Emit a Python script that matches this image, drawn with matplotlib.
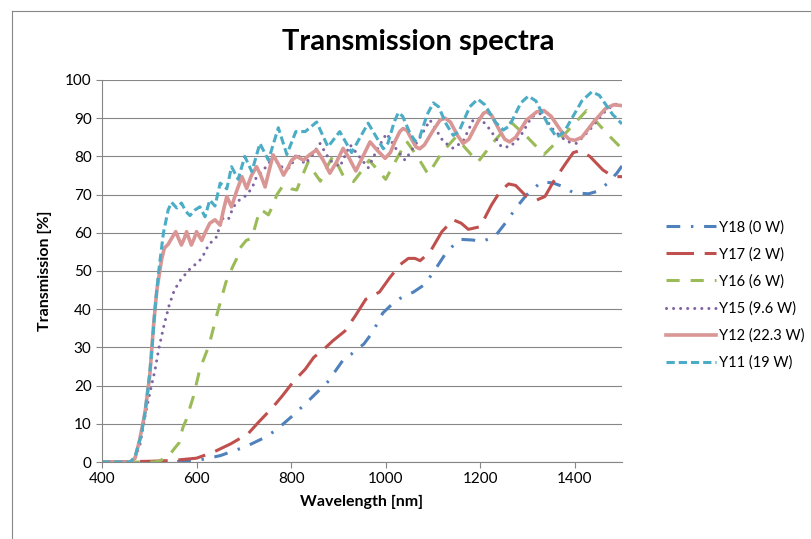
import numpy as np
import matplotlib.pyplot as plt
from matplotlib.lines import Line2D

plt.rcParams['font.family'] = ['Lato', 'DejaVu Sans']

# Y18 (0 W)
wl_y18 = [400, 542, 600, 622, 651, 680, 702, 739, 768, 804, 834, 848, 877, 914, 928, 954,
          972, 994, 1016, 1030, 1059, 1083, 1108, 1129, 1157, 1185, 1203, 1231, 1253, 1277,
          1298, 1330, 1355, 1373, 1397, 1429, 1446, 1468, 1489, 1500]
t_y18 = [0, 0, 0.4, 0.9, 1.7, 3, 3.9, 6.1, 8.3, 12.2, 15.7, 17.4, 20.9, 27.4, 28.3, 30.9,
         33.9, 39, 41.6, 42.8, 44.5, 46.5, 51, 55, 58.3, 58.1, 57.7, 59, 62.5, 66.7,
         69.9, 73.4, 73, 72.2, 70.5, 70.2, 70.8, 72.8, 75.6, 77.5]

# Y17 (2 W)
wl_y17 = [400, 505, 549, 600, 636, 673, 709, 731, 761, 782, 804, 830, 848, 870, 888, 914,
          936, 958, 987, 1009, 1031, 1048, 1062, 1073, 1094, 1119, 1143, 1160, 1175, 1200,
          1224, 1242, 1260, 1275, 1298, 1320, 1337, 1355, 1380, 1397, 1411, 1432, 1460,
          1482, 1500]
t_y17 = [0, 0.2, 0.4, 1, 2.6, 4.8, 7.4, 10.4, 14.3, 17.4, 20.9, 24.3, 27.4, 29.6, 31.7, 34.3,
         38.3, 42.6, 44.5, 48.3, 51.7, 53.3, 53.3, 52.7, 55, 60.3, 63.4, 62.5, 60.9, 61.6,
         67.3, 70.8, 72.8, 72.4, 69.5, 68.6, 69.5, 73.4, 78, 81, 81.5, 80, 76.4,
         74.7, 74.7]

# Y16 (6 W)
wl_y16 = [400, 510, 520, 530, 542, 553, 563, 571, 578, 593, 607, 626, 644, 662, 676, 684,
          692, 705, 717, 727, 734, 743, 752, 761, 770, 781, 791, 801, 812, 824, 836, 848,
          862, 875, 889, 910, 932, 948, 965, 983, 1000, 1022, 1044, 1067, 1090, 1119, 1148,
          1170, 1195, 1230, 1265, 1300, 1335, 1380, 1425, 1468, 1500]
t_y16 = [0, 0, 0.2, 0.8, 1.7, 3.5, 5, 9, 11, 17, 24.3, 30.4, 39, 47, 51, 53,
         56, 58, 58.6, 63, 66, 65.5, 64.7, 67, 70, 72, 72.5, 71.5, 71.2, 75, 78.5, 76,
         73.5, 77, 80.2, 75, 73.4, 76, 79, 76.5, 74, 79, 84, 80, 75.3, 81, 85,
         82, 78.5, 84, 89, 85, 80.5, 86, 92, 86, 82]

# Y15 (9.6 W)
wl_y15 = [400, 460, 469, 480, 491, 501, 512, 520, 531, 542, 553, 567, 585, 600, 611, 622,
          632, 643, 653, 667, 678, 690, 702, 717, 727, 741, 752, 762, 777, 798, 812, 829,
          843, 861, 882, 903, 925, 944, 963, 983, 1002, 1022, 1041, 1068, 1094, 1122, 1143,
          1164, 1185, 1200, 1221, 1245, 1263, 1284, 1309, 1330, 1355, 1383, 1404, 1432,
          1460, 1482, 1500]
t_y15 = [0, 0, 0.9, 4.3, 12, 18, 24, 29.6, 35.7, 41, 45, 47.8, 50.4, 52, 53.3, 56,
         57.7, 59, 63.8, 63.4, 66.8, 68.5, 69.5, 71.6, 74.7, 76.4, 78, 80, 77.3, 77, 80.8, 78,
         80, 83.4, 79, 77.3, 83, 80, 77, 82, 86, 82, 79, 84, 89.5, 83.9, 82.1,
         84, 89.5, 90, 87, 82.5, 82.5, 85, 90.4, 91.3, 86.9, 83.9, 83.4, 87,
         91.3, 93.5, 94]

# Y12 (22.3 W)
wl_y12 = [400, 460, 470, 480, 491, 501, 509, 516, 521, 526, 532, 540, 547, 556, 562, 568,
          574, 579, 584, 589, 595, 600, 606, 611, 618, 628, 639, 650, 657, 664, 674, 685,
          696, 706, 716, 727, 736, 745, 753, 762, 773, 784, 793, 801, 812, 826, 840, 854,
          868, 882, 896, 910, 923, 937, 952, 967, 983, 999, 1010, 1020, 1030, 1037, 1045,
          1055, 1064, 1072, 1082, 1099, 1115, 1126, 1137, 1152, 1164, 1176, 1195, 1207,
          1214, 1224, 1240, 1252, 1262, 1275, 1298, 1320, 1335, 1350, 1372, 1388, 1400,
          1415, 1440, 1465, 1482, 1500]
t_y12 = [0, 0, 1, 6, 13, 22.6, 35.7, 45, 49, 53, 56, 57, 58.5, 60.3, 58.5, 56.8,
         58.5, 60.3, 58.5, 56.8, 58.5, 60.3, 59, 58, 60, 62.5, 63.4, 62, 66, 69.5, 66.8, 71,
         74.7, 71.6, 75, 77.3, 75, 72, 76, 80.4, 78, 75.1, 77, 79, 80, 79, 80.5, 81.7,
         79, 75.6, 78.5, 82.1, 79.5, 76.2, 80, 83.8, 81.5, 79.5, 81, 84, 86.5, 87.3, 86.8,
         84.5, 82.5, 82, 83, 86.5, 89.5, 90, 89, 85.5, 83.4, 84.5, 89, 91.3,
         91.7, 90.8, 87, 84.5, 83.8, 85, 89.5, 91.7, 92, 90.5, 86.5, 84.5, 84.2,
         85, 89, 92.5, 93.5, 93.3]

# Y11 (19 W)
wl_y11 = [400, 460, 470, 483, 491, 498, 504, 512, 520, 530, 540, 547, 558, 568, 578, 586,
          597, 607, 618, 628, 639, 650, 664, 674, 688, 702, 717, 734, 752, 773, 791, 810,
          830, 854, 878, 903, 928, 963, 995, 1005, 1018, 1027, 1036, 1050, 1062, 1072, 1088,
          1101, 1112, 1128, 1143, 1155, 1178, 1195, 1210, 1232, 1249, 1262, 1286, 1302,
          1318, 1345, 1362, 1378, 1415, 1436, 1452, 1480, 1500]
t_y11 = [0, 0, 1.5, 7, 13, 20, 27, 40, 50, 60, 66, 68, 66.5, 67.8, 65.5, 64.5,
         66, 66.8, 64.2, 68.6, 67, 73, 71.5, 77.3, 74, 80, 76, 83.4, 79, 87.5, 80.5, 86.5,
         86.5, 89, 82.5, 86.5, 81, 88.7, 82, 83.5, 89, 91.5, 90.5, 86.5, 84, 85, 91,
         94, 93, 88.5, 85.5, 86.5, 93, 95, 93.5, 89, 86.9, 88, 94, 95.8,
         94.5, 88, 85, 86.5, 94.5, 96.9, 96, 91, 88.5]

labels = ['Y18 (0 W)', 'Y17 (2 W)', 'Y16 (6 W)', 'Y15 (9.6 W)', 'Y12 (22.3 W)', 'Y11 (19 W)']
colors = ['#4F81BD', '#C0504D', '#9BBB59', '#8064A2', '#D99694', '#4BACC6']

fig = plt.figure(figsize=(8.11, 5.39), dpi=100)
ax = fig.add_axes([102/811, 77/539, 520/811, 382/539])

ax.plot(wl_y18, t_y18, color=colors[0], lw=2.2, dashes=(4.5, 3.5, 0.8, 3.5), label=labels[0])
ax.plot(wl_y17, t_y17, color=colors[1], lw=2.2, dashes=(9, 3.5), label=labels[1])
ax.plot(wl_y16, t_y16, color=colors[2], lw=2.2, dashes=(4.3, 3.6), label=labels[2])
ax.plot(wl_y15, t_y15, color=colors[3], lw=2.2, dashes=(0.01, 2.3), dash_capstyle='round', label=labels[3])
ax.plot(wl_y12, t_y12, color=colors[4], lw=2.6, label=labels[4])
ax.plot(wl_y11, t_y11, color=colors[5], lw=2.2, dashes=(2.7, 1.3), label=labels[5])

ax.set_xlim(400, 1500)
ax.set_ylim(0, 100)
ax.set_xticks(np.arange(400, 1401, 200))
ax.set_yticks(np.arange(0, 101, 10))
ax.yaxis.grid(True, color='#868686', lw=0.8)
ax.set_axisbelow(True)
for s in ['top', 'right']:
    ax.spines[s].set_visible(False)
for s in ['left', 'bottom']:
    ax.spines[s].set_color('#868686')
    ax.spines[s].set_linewidth(0.8)
ax.tick_params(colors='#868686', labelcolor='black', labelsize=11, length=4, width=0.8)

ax.set_xlabel('Wavelength [nm]', fontsize=11.5, fontweight='bold', labelpad=6)
ax.set_ylabel('Transmission [%]', fontsize=11.5, fontweight='bold', labelpad=9)
fig.text(418/811, 1 - 42/539, 'Transmission spectra', fontsize=21, fontweight='bold',
         ha='center', va='center')

ax.legend(loc='center left', bbox_to_anchor=(666/811, 1 - 295/539), bbox_transform=fig.transFigure,
          frameon=False, fontsize=10.5, handlelength=3.4, handletextpad=0.25,
          labelspacing=0.88, borderpad=0, borderaxespad=0)

# outer chart frame
fig.add_artist(Line2D([12/811, 12/811], [0, 1 - 11/539], transform=fig.transFigure, color='#868686', lw=0.8))
fig.add_artist(Line2D([12/811, 1], [1 - 11/539, 1 - 11/539], transform=fig.transFigure, color='#868686', lw=0.8))

fig.savefig('out.png', dpi=100)
